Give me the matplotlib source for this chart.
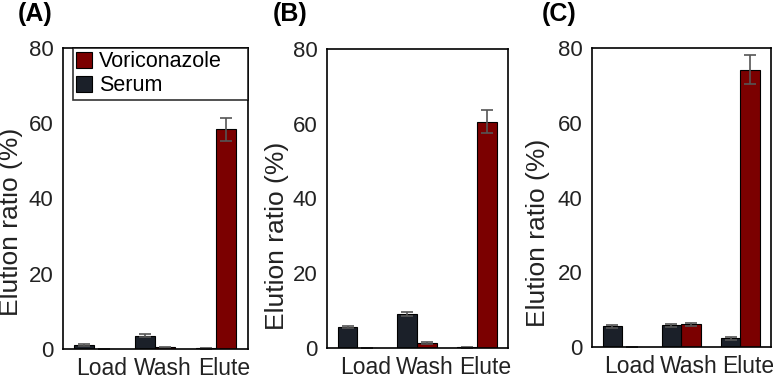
import matplotlib
matplotlib.use("Agg")
import matplotlib.pyplot as plt
import numpy as np

plt.rcParams['font.family'] = ['Liberation Sans', 'DejaVu Sans']

categories = ["Load", "Wash", "Elute"]
series_names = ["Voriconazole", "Serum"]
panel_labels = ["(A)", "(B)", "(C)"]

serum_A = [1.0, 3.5, 0.2]
serum_A_err = [0.3, 0.4, 0.1]
vori_A = [0.0, 0.4, 58.4]
vori_A_err = [0.0, 0.1, 3.0]

serum_B = [5.7, 9.1, 0.2]
serum_B_err = [0.3, 0.5, 0.1]
vori_B = [0.0, 1.3, 60.6]
vori_B_err = [0.0, 0.2, 3.1]

serum_C = [5.5, 5.8, 2.3]
serum_C_err = [0.4, 0.4, 0.3]
vori_C = [0.0, 6.1, 74.2]
vori_C_err = [0.0, 0.4, 3.9]

yticks = [0, 20, 40, 60, 80]

serum_color = "#1b2029"
vori_color = "#7b0000"
text_color = "#222222"

fig = plt.figure(figsize=(7.73, 3.79), dpi=100)
W, H = 773, 379
boxes = [(63, 248, 48, 349), (327, 508, 49, 348), (592, 771, 48, 347)]
data = [(serum_A, serum_A_err, vori_A, vori_A_err),
        (serum_B, serum_B_err, vori_B, vori_B_err),
        (serum_C, serum_C_err, vori_C, vori_C_err)]
label_x = [35, 290, 559]
ylabel_x = [11, 277, 538]
ylabel_y = [222, 236, 233]

x = np.arange(len(categories))
bw = 0.33
for i, ((l, r, t, b), (s, se, v, ve)) in enumerate(zip(boxes, data)):
    ax = fig.add_axes([l / W, 1 - b / H, (r - l) / W, (b - t) / H])
    ekw = dict(ecolor="#555555", elinewidth=1.2, capsize=4, capthick=1.2)
    hv = ax.bar(x + bw / 2, v, bw, color=vori_color, edgecolor="black", linewidth=0.8,
                yerr=ve, error_kw=ekw, label=series_names[0])
    hs = ax.bar(x - bw / 2, s, bw, color=serum_color, edgecolor="black", linewidth=0.8,
                yerr=se, error_kw=ekw, label=series_names[1])
    ax.set_ylim(0, 80)
    ax.set_xlim(-0.51, 2.52)
    ax.set_yticks(yticks)
    ax.set_xticks(x + 0.13)
    ax.set_xticklabels(categories)
    ax.tick_params(axis="x", length=0, labelsize=16.5, pad=6, colors=text_color)
    ax.tick_params(axis="y", length=0, labelsize=16, pad=7, colors=text_color)
    for sp in ax.spines.values():
        sp.set_linewidth(1.2)
    fig.text(ylabel_x[i] / W, 1 - ylabel_y[i] / H, "Elution ratio (%)", rotation=90,
             ha="center", va="center", fontsize=19, color=text_color)
    fig.text(label_x[i] / W, 1 - 14 / H, panel_labels[i], fontsize=18, fontweight="bold",
             ha="center", va="center")
    if i == 0:
        leg = ax.legend(handles=[hv, hs], loc="upper left", mode="expand",
                        bbox_to_anchor=(0.054, 0.0, 0.946, 1.0),
                        fontsize=15.5, frameon=True, fancybox=False, edgecolor="black",
                        handlelength=0.75, handleheight=0.75, handletextpad=0.3,
                        borderpad=0.15, labelspacing=0.15, borderaxespad=0.0)
        leg.get_frame().set_linewidth(1.2)
        for h in leg.legend_handles:
            h.set_edgecolor("black")

fig.savefig("out.png", dpi=100)
